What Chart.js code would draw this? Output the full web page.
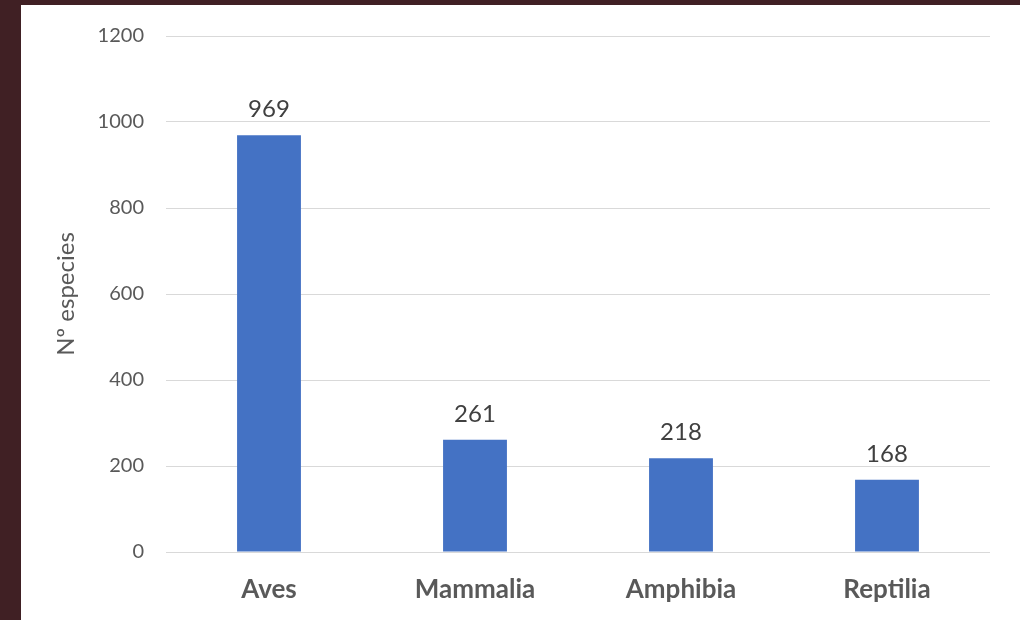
<!DOCTYPE html>
<html>
<head>
<meta charset="utf-8">
<script src="https://cdn.jsdelivr.net/npm/chart.js@4/dist/chart.umd.min.js"></script>
<style>
  html, body { margin: 0; padding: 0; background: #402024; }
  .marco { position: absolute; left: 21px; top: 5px; width: 999px; height: 615px; background: #ffffff; }
</style>
</head>
<body>
<div class="marco">
  <canvas id="grafico-especies" width="999" height="615"></canvas>
</div>
<script>
var categorias = ['Aves', 'Mammalia', 'Amphibia', 'Reptilia'];
var especies = [969, 261, 218, 168];
var ticksY = [0, 200, 400, 600, 800, 1000, 1200];

// escreve o valor em cima de cada barra
var rotulos = {
  id: 'rotulos',
  afterDatasetsDraw(chart) {
    var ctx = chart.ctx;
    ctx.save();
    ctx.font = '24px Lato';
    ctx.fillStyle = '#404040';
    ctx.textAlign = 'center';
    ctx.textBaseline = 'alphabetic';
    chart.getDatasetMeta(0).data.forEach((bar, i) => {
      ctx.fillText(especies[i], bar.x, bar.y - 18);
    });
    ctx.restore();
  }
};

var grafico = document.querySelector('#grafico-especies');

new Chart(grafico, {
  type: 'bar',
  data: {
    labels: categorias,
    datasets: [{
      label: 'Nº especies',
      data: especies,
      backgroundColor: '#4472C4',
      borderWidth: 0,
      barPercentage: 0.62,
      categoryPercentage: 0.5
    }]
  },
  plugins: [rotulos],
  options: {
    responsive: false,
    animation: false,
    layout: {
      padding: { top: 31, right: 30, left: 27, bottom: 0 }
    },
    plugins: {
      legend: { display: false },
      tooltip: { enabled: false }
    },
    scales: {
      x: {
        grid: { display: false },
        border: { display: false },
        ticks: {
          color: '#595959',
          padding: 14,
          font: { family: 'Lato', size: 26, weight: 'bold' }
        },
        afterFit(scale) { scale.height = 68; }
      },
      y: {
        min: 0,
        max: 1200,
        afterBuildTicks(scale) {
          scale.ticks = ticksY.map(v => ({ value: v }));
        },
        grid: { color: '#D9D9D9', lineWidth: 1, drawTicks: false },
        border: { display: false },
        ticks: {
          color: '#595959',
          padding: 22,
          font: { family: 'Lato', size: 20 },
          callback: v => String(v)
        },
        title: {
          display: true,
          text: 'Nº especies',
          color: '#595959',
          font: { family: 'Lato', size: 24 }
        },
        afterFit(scale) {
          scale.width = 118;
          scale.paddingTop = 12;
          scale.paddingBottom = 12;
        }
      }
    }
  }
});
</script>
</body>
</html>
